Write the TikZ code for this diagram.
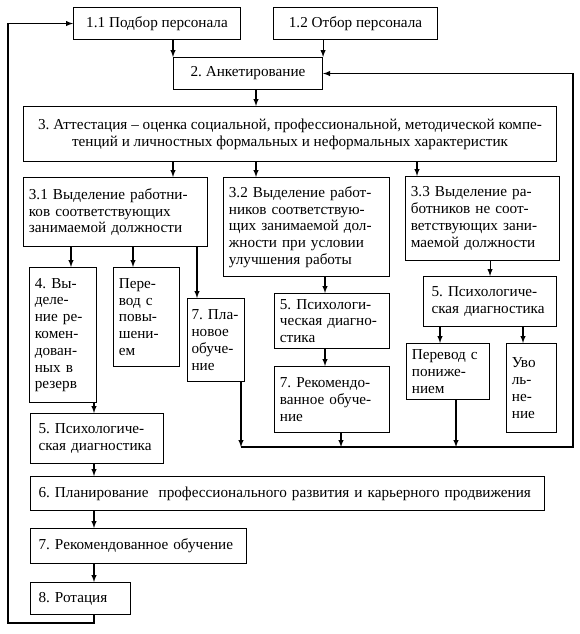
\documentclass[tikz,border=0pt]{standalone}
\usepackage{fontspec}
\setmainfont{Liberation Serif}
\usetikzlibrary{arrows}
\frenchspacing

\tikzset{
  blk/.style={draw, line width=0.8pt, anchor=north west, inner xsep=6pt, inner ysep=0pt,
    align=left, font=\fontsize{11.4}{12.6}\selectfont},
  narrow/.style={inner xsep=4pt},
  ln/.style={line width=0.8pt},
}

\begin{document}
\begin{tikzpicture}[x=0.75pt, y=-0.75pt]
\useasboundingbox (0,0) rectangle (579,634);

%boxes
\node[blk, minimum width=125.25pt, minimum height=24pt, align=center] (b11) at (73,7) {1.1 Подбор персонала};
\node[blk, minimum width=123pt, minimum height=24pt, align=center] (b12) at (273,7) {1.2 Отбор персонала};
\node[blk, minimum width=111.75pt, minimum height=24pt, align=center] (b2) at (173,57) {2. Анкетирование};
\node[blk, minimum width=399.75pt, minimum height=41.25pt, align=center, inner xsep=2pt] (b3) at (23,106)
  {3. Аттестация – оценка социальной, профессиональной, методической компе-\\
   тенций и личностных формальных и неформальных характеристик};

\node[blk, minimum height=51.75pt, text width=130pt, inner xsep=4pt] (b31) at (23,177)
  {3.1 Выделение работни-\\ков соответствующих\\занимаемой должности};
\node[blk, minimum height=74.25pt, text width=116.5pt, inner xsep=4pt] (b32) at (223,177)
  {3.2 Выделение работ-\\ников соответствую-\\щих занимаемой дол-\\жности при условии\\улучшения работы};
\node[blk, minimum height=63pt, text width=107.5pt, inner xsep=4pt] (b33) at (405,176)
  {3.3 Выделение ра-\\ботников не соот-\\ветствующих зани-\\маемой должности};

\node[blk, narrow, minimum height=101.25pt, text width=42.25pt] (b4) at (29,267)
  {4.~Вы-\\деле-\\ние ре-\\комен-\\дован-\\ных в\\резерв};
\node[blk, narrow, minimum height=74.25pt, text width=41.5pt] (bup) at (113,267)
  {Пере-\\вод с\\повы-\\шени-\\ем};
\node[blk, minimum height=62.25pt, text width=36.75pt, inner xsep=3pt] (bplan) at (187,298)
  {7.~Пла-\\новое\\обуче-\\ние};
\node[blk, narrow, minimum height=41.25pt, text width=78.25pt] (b5m) at (274,293)
  {5. Психологи-\\ческая диагно-\\стика};
\node[blk, narrow, minimum height=49.5pt, text width=78.25pt] (b7m) at (274,366)
  {7. Рекомендо-\\ванное обуче-\\ние};
\node[blk, minimum height=37.5pt, text width=87.75pt] (b5r) at (423,276)
  {5. Психологиче-\\ская диагностика};
\node[blk, narrow, minimum height=42pt, text width=54.25pt] (bdown) at (406,343)
  {Перевод с\\пониже-\\нием};
\node[blk, narrow, minimum height=66.75pt, text width=29.5pt] (bfire) at (506,343)
  {Уво\\ль-\\не-\\ние};

\node[blk, minimum height=37.5pt, text width=87.75pt] (b5l) at (30,413)
  {5. Психологиче-\\ская диагностика};
\node[blk, minimum height=25.5pt, text width=373.5pt] (b6) at (30,476)
  {6. Планирование \ профессионального развития и карьерного продвижения};
\node[blk, minimum height=26.25pt, text width=150pt] (b7) at (30,528)
  {7. Рекомендованное обучение};
\node[blk, minimum height=24pt, text width=63pt] (b8) at (30,582)
  {8. Ротация};

%x positions of the arrows
\coordinate (c1) at (256,0);
\coordinate (c2) at (417,0);
\coordinate (c3) at (71,0);
\coordinate (c4) at (133,0);
\coordinate (c5) at (197,0);
\coordinate (c6) at (325,0);
\coordinate (c7) at (440,0);
\coordinate (c8) at (523,0);
\coordinate (c9) at (94,0);
\coordinate (c10) at (241,0);
\coordinate (c11) at (341,0);
\coordinate (c12) at (456,0);
\coordinate (fb) at (573,447);
\coordinate (lb) at (8,623);

%top part
\draw[-latex, ln] (b2.north west |- b11.south) -- (b2.north west);
\draw[-latex, ln] (b2.north east |- b12.south) -- (b2.north east);
\draw[-latex, ln] (c1 |- b2.south) -- (c1 |- b3.north);
\draw[-latex, ln] (b2.west |- b3.south) -- (b2.west |- b31.north);
\draw[-latex, ln] (c1 |- b3.south) -- (c1 |- b32.north);
\draw[-latex, ln] (c2 |- b3.south) -- (c2 |- b33.north);

%middle part
\draw[-latex, ln] (c3 |- b31.south) -- (c3 |- b4.north);
\draw[-latex, ln] (c4 |- b31.south) -- (c4 |- bup.north);
\draw[-latex, ln] (c5 |- b31.south) -- (c5 |- bplan.north);
\draw[-latex, ln] (c6 |- b32.south) -- (c6 |- b5m.north);
\draw[-latex, ln] (c6 |- b5m.south) -- (c6 |- b7m.north);
\draw[-latex, ln] (b5r.north |- b33.south) -- (b5r.north);
\draw[-latex, ln] (c7 |- b5r.south) -- (c7 |- bdown.north);
\draw[-latex, ln] (c8 |- b5r.south) -- (c8 |- bfire.north);

%back to 2
\draw[-latex, ln] (c10 |- bplan.south) -- (c10 |- fb);
\draw[-latex, ln] (c11 |- b7m.south) -- (c11 |- fb);
\draw[-latex, ln] (c12 |- bdown.south) -- (c12 |- fb);
\draw[-latex, ln] (c10 |- fb) -- (fb) -- (fb |- b2.east) -- (b2.east);

%left column
\draw[-latex, ln] (c9 |- b4.south) -- (c9 |- b5l.north);
\draw[-latex, ln] (c9 |- b5l.south) -- (c9 |- b6.north);
\draw[-latex, ln] (c9 |- b6.south) -- (c9 |- b7.north);
\draw[-latex, ln] (c9 |- b7.south) -- (c9 |- b8.north);
\draw[-latex, ln] (c9 |- b8.south) -- (c9 |- lb) -- (lb) -- (lb |- b11.west) -- (b11.west);

\end{tikzpicture}
\end{document}
